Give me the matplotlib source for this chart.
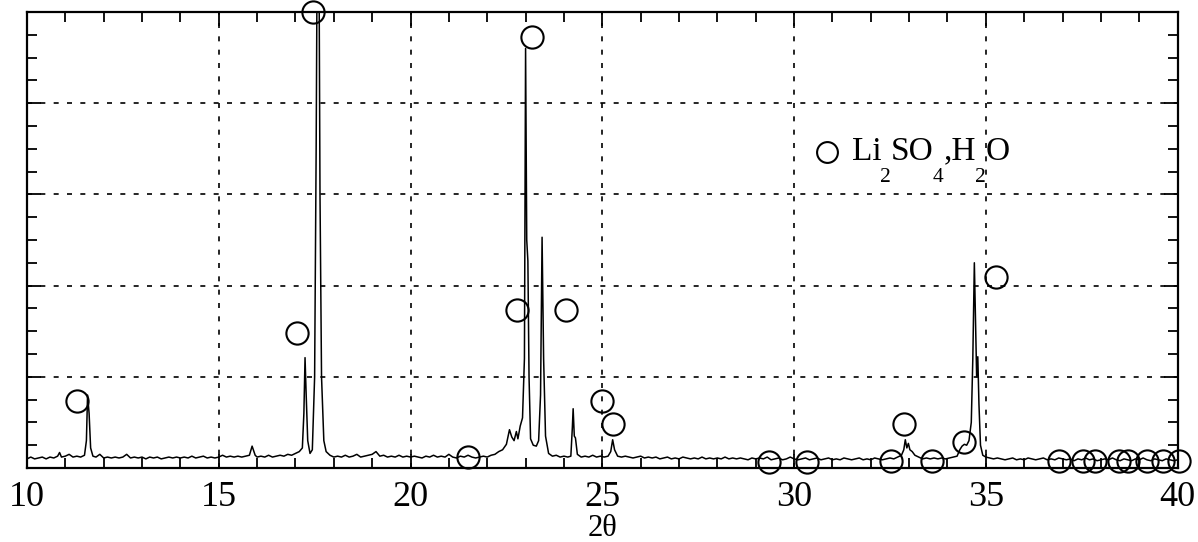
import numpy as np
import matplotlib.pyplot as plt
import matplotlib.transforms as mtransforms
from matplotlib.ticker import MultipleLocator

plt.rcParams['font.family'] = ['Liberation Serif', 'DejaVu Serif']

# diffractogram trace (2theta, intensity in grid units)
two_theta = [
    10.0, 10.1, 10.2, 10.3, 10.4, 10.5, 10.6, 10.7, 10.8, 10.85, 10.9, 11.0, 11.1, 11.2, 11.3, 11.4, 11.5,
    11.55, 11.58, 11.62, 11.66, 11.72,
    11.8, 11.9, 12.0, 12.1, 12.2, 12.3, 12.4, 12.5, 12.6, 12.7, 12.8, 12.9, 13.0, 13.1, 13.2, 13.3, 13.4,
    13.5, 13.6, 13.7, 13.8, 13.9, 14.0, 14.1, 14.2, 14.3, 14.4, 14.5, 14.6, 14.7, 14.8, 14.9, 15.0, 15.1,
    15.2, 15.3, 15.4, 15.5, 15.6, 15.7, 15.8, 15.87, 15.95, 16.0, 16.1, 16.2, 16.3, 16.4, 16.5, 16.6, 16.7,
    16.8, 16.9, 17.0, 17.1, 17.18,
    17.22, 17.25, 17.28, 17.32, 17.38, 17.44, 17.5, 17.54, 17.57, 17.61, 17.64, 17.68, 17.74, 17.8, 17.9,
    18.0, 18.1, 18.2, 18.3, 18.4, 18.5, 18.6, 18.7, 18.8, 18.9, 19.0, 19.1, 19.2, 19.3, 19.4, 19.5, 19.6,
    19.7, 19.8, 19.9, 20.0, 20.1, 20.2, 20.3, 20.4, 20.5, 20.6, 20.7, 20.8, 20.9, 21.0, 21.1, 21.2, 21.3,
    21.4, 21.5, 21.6, 21.7, 21.8, 21.9, 22.0, 22.1, 22.2, 22.3, 22.4, 22.5, 22.58, 22.64, 22.7, 22.76, 22.8,
    22.86, 22.92, 22.97, 23.0, 23.03, 23.06, 23.09, 23.13, 23.2, 23.28, 23.34, 23.39, 23.43, 23.47, 23.52,
    23.6, 23.7, 23.8, 23.9, 24.0, 24.1, 24.18, 24.22, 24.24, 24.27, 24.3, 24.35, 24.45, 24.55, 24.65,
    24.75, 24.85, 24.95, 25.05, 25.15, 25.22, 25.27, 25.32, 25.4, 25.5, 25.6,
    25.7, 25.8, 25.9, 26.0, 26.1, 26.2, 26.3, 26.4, 26.5, 26.6, 26.7, 26.8, 26.9, 27.0, 27.1, 27.2, 27.3,
    27.4, 27.5, 27.6, 27.7, 27.8, 27.9, 28.0, 28.1, 28.2, 28.3, 28.4, 28.5, 28.6, 28.7, 28.8, 28.9, 29.0,
    29.1, 29.2, 29.3, 29.4, 29.5, 29.6, 29.7, 29.8, 29.9, 30.0, 30.1, 30.2, 30.3, 30.4, 30.5, 30.6, 30.7,
    30.8, 30.9, 31.0, 31.1, 31.2, 31.3, 31.4, 31.5, 31.6, 31.7, 31.8, 31.9, 32.0, 32.1, 32.2, 32.3, 32.4,
    32.5, 32.6, 32.7, 32.8, 32.86, 32.9, 32.94, 32.98, 33.02, 33.08, 33.15, 33.25, 33.35, 33.45, 33.55,
    33.65, 33.75, 33.85, 33.95, 34.05, 34.15, 34.25, 34.32, 34.38, 34.44, 34.5, 34.56, 34.62, 34.66, 34.7,
    34.73, 34.76, 34.79, 34.82, 34.86, 34.92, 35.0, 35.1, 35.2, 35.3, 35.4, 35.5, 35.6, 35.7, 35.8, 35.9,
    36.0, 36.1, 36.2, 36.3, 36.4, 36.5, 36.6, 36.7, 36.8, 36.9, 37.0, 37.1, 37.2, 37.3, 37.4, 37.5, 37.6,
    37.7, 37.8, 37.9, 38.0, 38.1, 38.2, 38.3, 38.4, 38.5, 38.6, 38.7, 38.8, 38.9, 39.0, 39.1, 39.2, 39.3,
    39.4, 39.5, 39.6, 39.7, 39.8, 39.9, 40.0,
]
intensity = [
    .10, .12, .10, .11, .12, .10, .12, .11, .13, .17, .12, .13, .15, .12, .13, .12, .14,
    .30, .80, .60, .22, .13,
    .12, .15, .11, .12, .11, .12, .11, .12, .15, .11, .12, .11, .12, .10, .12, .11, .12,
    .10, .11, .12, .11, .12, .11, .12, .11, .13, .11, .12, .13, .11, .12, .11, .12, .14,
    .12, .13, .12, .13, .12, .13, .14, .24, .14, .12, .13, .12, .14, .12, .13, .14, .13,
    .15, .14, .16, .18, .22,
    .60, 1.21, .80, .30, .16, .20, 1.0, 3.5, 6.0, 6.0, 3.0, 1.0, .30, .18, .14,
    .12, .13, .12, .14, .12, .13, .15, .12, .13, .14, .15, .18, .13, .14, .12, .13, .12,
    .14, .12, .13, .12, .13, .12, .11, .13, .12, .14, .12, .13, .12, .15, .12, .11, .13,
    .12, .14, .12, .11, .12, .13, .12, .14, .15, .18, .20, .26, .42, .34, .30, .40, .32,
    .46, .55, 1.2, 4.6, 2.5, 2.27, 1.0, .32, .25, .24, .30, .80, 2.53, 1.2, .35,
    .16, .13, .14, .12, .13, .12, .13, .45, .65, .35, .33, .15, .12, .13, .12,
    .14, .12, .13, .12, .13, .18, .31, .20, .13, .12, .13,
    .12, .11, .12, .13, .11, .12, .11, .12, .10, .11, .12, .10, .11, .10, .12, .11, .10,
    .11, .10, .12, .10, .11, .10, .11, .10, .12, .10, .11, .10, .11, .10, .09, .11, .10,
    .11, .10, .12, .09, .10, .11, .09, .10, .12, .10, .09, .10, .11, .09, .10, .11, .09,
    .10, .11, .09, .10, .09, .11, .10, .09, .10, .11, .09, .10, .09, .11, .10, .09, .10,
    .11, .10, .12, .14, .20, .31, .22, .27, .20, .18, .14, .12, .10, .11, .10,
    .11, .10, .11, .10, .11, .12, .13, .20, .24, .26, .25, .30, .50, 1.2, 2.25,
    1.6, 1.0, 1.22, .70, .25, .14, .12, .11, .10, .11, .10, .09, .10, .11, .09, .10,
    .09, .11, .10, .09, .10, .11, .09, .10, .09, .11, .10, .09, .10, .08, .10, .09, .11,
    .09, .10, .08, .09, .10, .09, .11, .09, .08, .10, .09, .08, .10, .09, .11, .09, .08,
    .10, .09, .08, .10, .09, .08, .09,
]

# Li2SO4.H2O reflection markers
circle_x = [11.3, 17.03, 17.47, 21.51, 22.77, 23.18, 24.06, 25.0, 25.29, 29.35, 30.35, 32.53,
            32.87, 33.6, 34.44, 35.26, 36.9, 37.53, 37.84, 38.47, 38.71, 39.2, 39.61, 40.03]
circle_y = [0.74, 1.48, 5.0, 0.12, 1.73, 4.72, 1.73, 0.74, 0.48, 0.07, 0.07, 0.08,
            0.48, 0.08, 0.29, 2.09, 0.08, 0.08, 0.08, 0.08, 0.08, 0.08, 0.08, 0.08]

legend_x = 30.85
legend_y = 3.46
# (text, is_subscript)
legend_parts = [('Li', False), ('2', True), ('SO', False), ('4', True),
                (',H', False), ('2', True), ('O', False)]

fig = plt.figure(figsize=(11.98, 5.42), dpi=100)
ax = fig.add_axes([0.0225, 0.1365, 0.9605, 0.8415])

ax.plot(two_theta, intensity, color='black', lw=1.1)
ax.plot(circle_x, circle_y, 'o', ms=16, mfc='none', mec='black', mew=1.5, clip_on=False)

ax.plot([legend_x], [legend_y], 'o', ms=15, mfc='none', mec='black', mew=1.5)

ax.set_xlim(10, 40)
ax.set_ylim(0, 5)
ax.xaxis.set_major_locator(MultipleLocator(5))
ax.xaxis.set_minor_locator(MultipleLocator(1))
ax.yaxis.set_major_locator(MultipleLocator(1))
ax.yaxis.set_minor_locator(MultipleLocator(0.25))
ax.tick_params(which='both', direction='in', top=True, right=True, labelleft=False, width=1.3)
ax.tick_params(which='major', length=10, labelsize=26, pad=9)
ax.tick_params(which='minor', length=7)
ax.grid(True, which='major', color='black', lw=1.2, linestyle=(0, (3, 5)))

for s in ax.spines.values():
    s.set_linewidth(1.6)

ax.set_xlabel('2θ', fontsize=22, labelpad=0)

# legend label with low-set subscripts, laid out piece by piece in pixels
fig.canvas.draw()
renderer = fig.canvas.get_renderer()
px, py = ax.transData.transform((31.5, 3.38))
ident = mtransforms.IdentityTransform()
for txt, sub in legend_parts:
    t = fig.text(px, py - 22 if sub else py, txt, transform=ident,
                 fontsize=15.5 if sub else 24, va='baseline', ha='left')
    px = t.get_window_extent(renderer).x1 + (0 if sub else -1)

fig.savefig('out.png', dpi=100)
